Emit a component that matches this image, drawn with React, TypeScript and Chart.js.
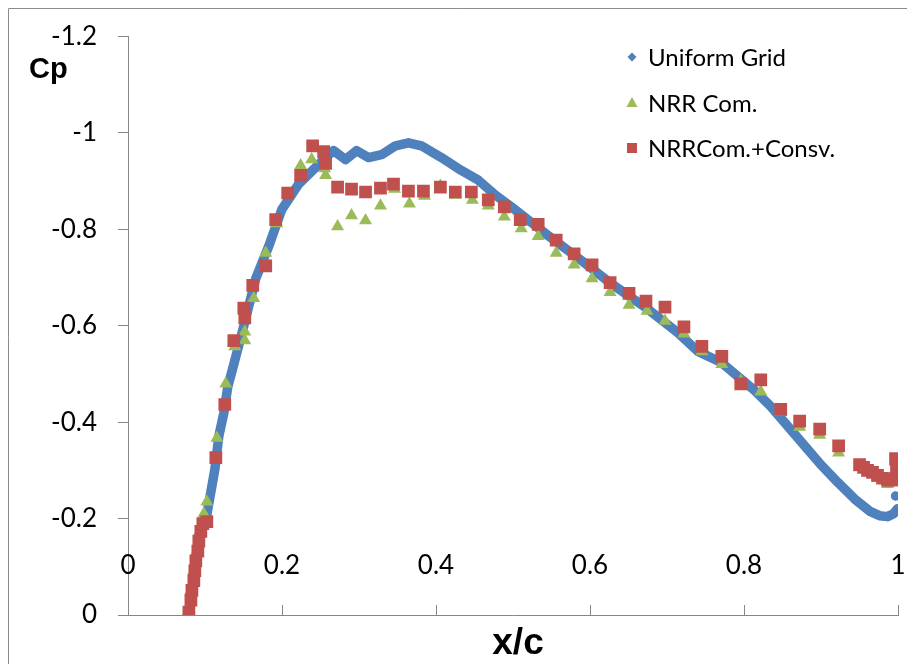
import React, { useEffect, useRef } from "react";
import { Chart, registerables } from "chart.js";

Chart.register(...registerables);

// ---- Data (x/c, Cp) ----
const uniformX = [0.0791, 0.083, 0.0881, 0.0933, 0.1024, 0.1128, 0.118, 0.1244, 0.1296, 0.1374, 0.1465, 0.153, 0.1659, 0.1828, 0.1996, 0.2216, 0.2437, 0.2566, 0.267, 0.2826, 0.2968, 0.3124, 0.3292, 0.3474, 0.3642, 0.3811, 0.407, 0.4329, 0.455, 0.477, 0.4977, 0.5418, 0.5846, 0.6273, 0.6714, 0.7142, 0.7401, 0.7699, 0.814, 0.8347, 0.8568, 0.8788, 0.8996, 0.9216, 0.9436, 0.9643, 0.976, 0.9864, 0.9942, 0.9994, 0.9990, 0.9968];
const uniformCp = [0, -0.051, -0.1122, -0.1633, -0.2082, -0.302, -0.3714, -0.4184, -0.4735, -0.5204, -0.5755, -0.6163, -0.698, -0.7653, -0.8408, -0.8939, -0.9286, -0.949, -0.9633, -0.9449, -0.9633, -0.949, -0.9551, -0.9735, -0.9796, -0.9735, -0.949, -0.9224, -0.902, -0.8714, -0.8469, -0.7918, -0.7408, -0.6878, -0.6388, -0.5857, -0.5469, -0.5245, -0.4653, -0.4327, -0.3918, -0.351, -0.3122, -0.2755, -0.2408, -0.2143, -0.206, -0.2041, -0.2102, -0.2204, null, -0.2469];

const nrrX = [0.0778, 0.0817, 0.0855, 0.0894, 0.0933, 0.0985, 0.1024, 0.1154, 0.127, 0.1387, 0.1517, 0.1517, 0.1633, 0.1789, 0.1931, 0.2242, 0.2385, 0.2553, 0.2566, 0.2722, 0.2903, 0.3085, 0.3279, 0.3461, 0.3655, 0.385, 0.4057, 0.4251, 0.4472, 0.4679, 0.4887, 0.5107, 0.5327, 0.5561, 0.5794, 0.6027, 0.6261, 0.6507, 0.674, 0.6974, 0.722, 0.7453, 0.7712, 0.7958, 0.8218, 0.8477, 0.8723, 0.8983, 0.9229, 0.9501, 0.9605, 0.9734, 0.9864, 0.9968, 0.9968];
const nrrCp = [-0.0061, -0.051, -0.0918, -0.1327, -0.1735, -0.2102, -0.2347, -0.3673, -0.4796, -0.5571, -0.5694, -0.5878, -0.6571, -0.751, -0.8122, -0.9327, -0.9449, -0.9265, -0.9122, -0.8061, -0.8286, -0.8184, -0.849, -0.8837, -0.8531, -0.8694, -0.8898, -0.8714, -0.8612, -0.849, -0.8265, -0.802, -0.7857, -0.751, -0.7265, -0.698, -0.6694, -0.6429, -0.6306, -0.6102, -0.5837, -0.5469, -0.5204, -0.4857, -0.4633, -0.4204, -0.3898, -0.3735, -0.3367, -0.3061, -0.2959, -0.2837, -0.2714, -0.2776, -0.3163];

const consvX = [0.0791, 0.0817, 0.083, 0.0855, 0.0868, 0.0881, 0.0907, 0.092, 0.0946, 0.0972, 0.1024, 0.1141, 0.1257, 0.1374, 0.1504, 0.1517, 0.162, 0.1789, 0.1918, 0.2074, 0.2242, 0.2398, 0.2541, 0.2566, 0.2722, 0.2903, 0.3085, 0.3279, 0.3448, 0.3642, 0.3837, 0.4057, 0.4251, 0.4459, 0.4679, 0.4887, 0.5094, 0.5327, 0.5561, 0.5794, 0.6027, 0.6261, 0.6507, 0.6727, 0.6974, 0.722, 0.7453, 0.7712, 0.7958, 0.8218, 0.8477, 0.8723, 0.8983, 0.9229, 0.9501, 0.9553, 0.9605, 0.9669, 0.9734, 0.9799, 0.9864, 0.9916, 0.9968, 0.9981, 0.9968];
const consvCp = [-0.0061, -0.0306, -0.051, -0.0714, -0.0918, -0.1122, -0.1327, -0.1531, -0.1735, -0.1898, -0.1939, -0.3265, -0.4367, -0.5694, -0.6367, -0.6163, -0.6837, -0.7245, -0.8204, -0.8755, -0.9122, -0.9735, -0.9612, -0.9367, -0.8878, -0.8837, -0.8776, -0.8857, -0.8939, -0.8796, -0.8796, -0.8878, -0.8776, -0.8776, -0.8612, -0.8469, -0.8204, -0.8102, -0.7776, -0.749, -0.7265, -0.6898, -0.6673, -0.651, -0.6388, -0.598, -0.5571, -0.5367, -0.4796, -0.4878, -0.4265, -0.402, -0.3857, -0.351, -0.3122, -0.3061, -0.3, -0.2959, -0.2898, -0.2837, -0.2796, -0.2796, -0.2837, -0.3, -0.3245];

const seriesNames = ["Uniform Grid", "NRR Com.", "NRRCom.+Consv."];
const seriesColors = ["#4F81BD", "#9BBB59", "#C0504D"];
const xTickValues = [0, 0.2, 0.4, 0.6, 0.8, 1];
const xTickLabels = ["0", "0.2", "0.4", "0.6", "0.8", "1"];
const yTickValues = [-1.2, -1, -0.8, -0.6, -0.4, -0.2, 0];
const yTickLabels = ["-1.2", "-1", "-0.8", "-0.6", "-0.4", "-0.2", "0"];
const xTitle = "x/c";
const yTitle = "Cp";

const toPoints = (xs: number[], ys: (number | null)[]) => xs.map((x, i) => ({ x, y: ys[i] }));

const AXIS_GRAY = "#868686";
const TICK_FONT = "26px Lato";

const overlay = {
  id: "overlay",
  afterDraw(chart: any) {
    const { ctx, chartArea, scales } = chart;
    const xs = scales.x;
    ctx.save();
    // outer frame
    ctx.strokeStyle = "#8c8c8c";
    ctx.lineWidth = 1;
    ctx.beginPath();
    ctx.moveTo(8.5, 700);
    ctx.lineTo(8.5, 8.5);
    ctx.lineTo(950, 8.5);
    ctx.stroke();
    // x tick marks (inward) and labels
    ctx.strokeStyle = AXIS_GRAY;
    ctx.beginPath();
    xTickValues.forEach((v) => {
      const px = Math.round(xs.getPixelForValue(v)) + 0.5;
      ctx.moveTo(px, chartArea.bottom);
      ctx.lineTo(px, chartArea.bottom - 10);
    });
    ctx.stroke();
    ctx.fillStyle = "#000";
    ctx.font = TICK_FONT;
    ctx.textAlign = "center";
    ctx.textBaseline = "alphabetic";
    xTickValues.forEach((v, i) => {
      const px = xs.getPixelForValue(v);
      ctx.fillText(xTickLabels[i], px, 574);
    });
    // axis titles
    ctx.font = 'bold 29px "Liberation Sans"';
    ctx.textAlign = "left";
    ctx.fillText(yTitle, 29, 78);
    ctx.font = 'bold 37px "Liberation Sans"';
    ctx.textAlign = "center";
    ctx.fillText(xTitle, 518, 654);
    // legend
    const rows = [57, 103, 148];
    const mx = 632;
    ctx.font = "24px Lato";
    ctx.textAlign = "left";
    ctx.textBaseline = "middle";
    rows.forEach((ry, i) => {
      ctx.fillStyle = seriesColors[i];
      ctx.beginPath();
      if (i === 0) {
        ctx.moveTo(mx, ry - 4.5);
        ctx.lineTo(mx + 4.5, ry);
        ctx.lineTo(mx, ry + 4.5);
        ctx.lineTo(mx - 4.5, ry);
      } else if (i === 1) {
        ctx.moveTo(mx, ry - 6);
        ctx.lineTo(mx + 5.5, ry + 4);
        ctx.lineTo(mx - 5.5, ry + 4);
      } else {
        ctx.rect(mx - 5, ry - 5, 10, 10);
      }
      ctx.closePath();
      ctx.fill();
      ctx.fillStyle = "#000";
      ctx.fillText(seriesNames[i], 648, ry + 1);
    });
    ctx.restore();
  },
};

export default function App() {
  const ref = useRef<HTMLCanvasElement>(null);
  useEffect(() => {
    if (!ref.current) return;
    const chart = new Chart(ref.current, {
      type: "scatter",
      data: {
        datasets: [
          {
            label: seriesNames[0],
            data: toPoints(uniformX, uniformCp),
            showLine: true,
            spanGaps: false,
            borderColor: seriesColors[0],
            backgroundColor: seriesColors[0],
            borderWidth: 9.5,
            borderCapStyle: "round",
            borderJoinStyle: "round",
            tension: 0,
            pointStyle: "rectRot",
            pointRadius: 4.5,
            pointBorderWidth: 0,
            order: 3,
          } as any,
          {
            label: seriesNames[1],
            data: toPoints(nrrX, nrrCp),
            showLine: false,
            backgroundColor: seriesColors[1],
            borderColor: seriesColors[1],
            pointStyle: "triangle",
            pointRadius: 7.5,
            pointBorderWidth: 0,
            order: 2,
          },
          {
            label: seriesNames[2],
            data: toPoints(consvX, consvCp),
            showLine: false,
            backgroundColor: seriesColors[2],
            borderColor: seriesColors[2],
            pointStyle: "rect",
            pointRadius: 9,
            pointBorderWidth: 0,
            order: 1,
          },
        ],
      },
      options: {
        responsive: false,
        animation: false,
        devicePixelRatio: 1,
        layout: { padding: { left: 0, top: 27, right: 7, bottom: 49 } },
        plugins: { legend: { display: false }, tooltip: { enabled: false } },
        scales: {
          x: {
            type: "linear",
            min: 0,
            max: 1,
            ticks: { display: false, stepSize: 0.2 },
            grid: { display: false },
            border: { display: true, color: AXIS_GRAY, width: 1 },
            afterFit: (s: any) => {
              s.height = 0;
            },
          },
          y: {
            type: "linear",
            min: -1.2,
            max: 0,
            reverse: true,
            afterBuildTicks: (s: any) => {
              s.ticks = yTickValues.map((v) => ({ value: v }));
            },
            ticks: {
              color: "#000",
              font: { family: "Lato", size: 26 },
              padding: 21,
              callback: (v: any) => {
                const i = yTickValues.findIndex((t) => Math.abs(t - Number(v)) < 1e-6);
                return i >= 0 ? yTickLabels[i] : "";
              },
            },
            grid: { drawOnChartArea: false, drawTicks: true, tickLength: 10, color: AXIS_GRAY },
            border: { display: true, color: AXIS_GRAY, width: 1 },
            afterFit: (s: any) => {
              s.width = 128;
            },
          },
        },
      } as any,
      plugins: [overlay],
    });
    let alive = true;
    if ((document as any).fonts) {
      Promise.all([
        (document as any).fonts.load("26px Lato"),
        (document as any).fonts.load('bold 29px "Liberation Sans"'),
      ]).then(() => {
        if (alive) chart.update();
      });
    }
    return () => {
      alive = false;
      chart.destroy();
    };
  }, []);
  return (
    <div style={{ position: "absolute", left: 0, top: 0, width: 907, height: 664 }}>
      <canvas ref={ref} width={907} height={664} style={{ width: 907, height: 664 }} />
    </div>
  );
}
